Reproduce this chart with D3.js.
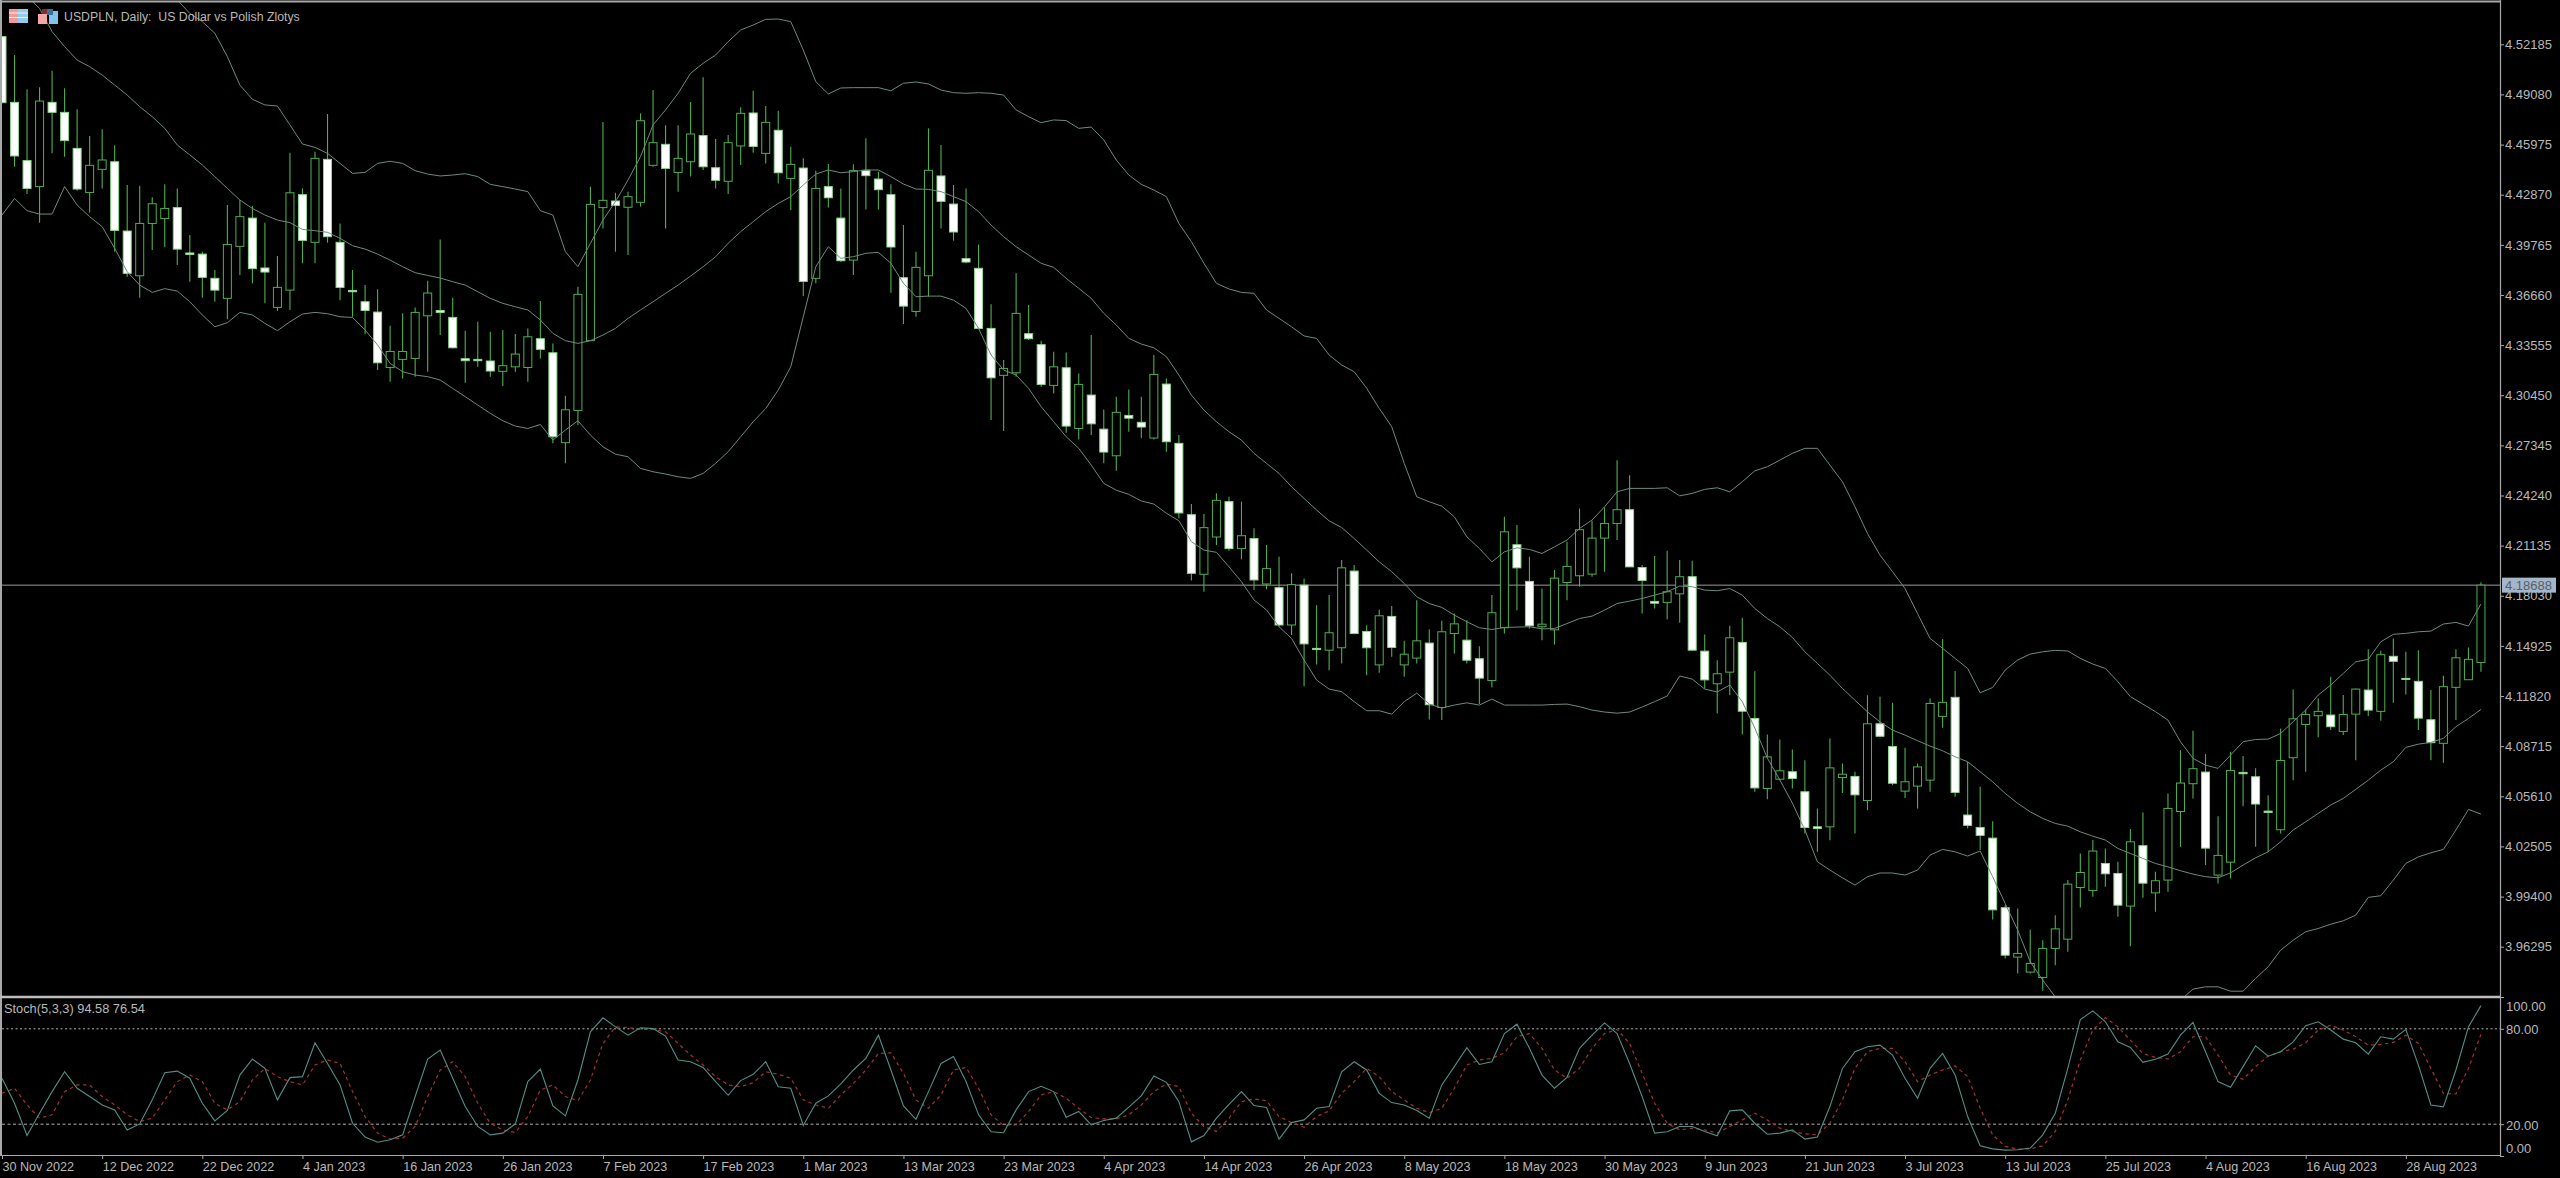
<!DOCTYPE html>
<html><head><meta charset="utf-8">
<style>
html,body{margin:0;padding:0;background:#000;overflow:hidden}
svg{display:block;font-family:"Liberation Sans",Arial,sans-serif}
</style>
<script src="https://cdn.jsdelivr.net/npm/d3@7/dist/d3.min.js"></script>
</head><body><svg id="c" width="2560" height="1178"></svg>
<script>
const opens=[
4.5266,4.4859,4.4498,4.4337,4.4859,4.4797,4.4574,4.4301,4.4444,4.4491,
4.4062,4.3785,4.4109,4.4140,4.4207,4.3926,4.3919,4.3769,4.3645,4.3967,
4.4142,4.3833,4.3589,4.3696,4.4287,4.3992,4.4506,4.3992,4.3694,4.3624,
4.3560,4.3217,4.3267,4.3273,4.3537,4.3570,4.3527,4.3271,4.3267,4.3257,
4.3193,4.3221,4.3217,4.3395,4.3308,4.2751,4.2951,4.3383,4.4207,4.4248,
4.4209,4.4240,4.4469,4.4599,4.4425,4.4491,4.4653,4.4454,4.4370,4.4589,
4.4793,4.4543,4.4686,4.4388,4.4452,4.3769,4.4337,4.4142,4.3882,4.4438,
4.4384,4.4287,4.3773,4.3564,4.3785,4.4403,4.4229,4.3891,4.3831,4.3459,
4.3168,4.3184,4.3426,4.3358,4.3106,4.3215,4.2839,4.3046,4.2835,4.2670,
4.2920,4.2877,4.2780,4.3114,4.2747,4.2305,4.1936,4.2167,4.2386,4.2095,
4.2157,4.1876,4.1853,4.1622,4.1869,4.1477,4.1466,4.1481,4.1956,4.1582,
4.1375,4.1675,4.1375,4.1417,4.1510,4.1111,4.1569,4.1528,4.1413,4.1278,
4.1605,4.2119,4.1892,4.1611,4.1592,4.1885,4.1927,4.1937,4.2160,4.2251,
4.2336,4.1978,4.1768,4.1762,4.1815,4.1921,4.1460,4.1258,4.1330,4.1514,
4.1043,4.0609,4.0667,4.0713,4.0589,4.0372,4.0372,4.0677,4.0684,4.0535,
4.1010,4.0869,4.0593,4.0624,4.0661,4.1056,4.1174,4.0445,4.0368,4.0302,
3.9871,3.9565,3.9472,3.9439,3.9619,3.9676,3.9996,3.9978,4.0145,4.0083,
3.9881,4.0255,3.9963,4.0042,4.0467,4.0639,4.0711,4.0073,4.0153,4.0709,
4.0682,4.0469,4.0354,4.0800,4.1006,4.1060,4.1064,4.0963,4.1070,4.1219,
4.1087,4.1428,4.1291,4.1273,4.1035,4.0889,4.1236,4.1283,4.1390];
const highs=[
4.5270,4.5152,4.4940,4.4952,4.5055,4.4946,4.4816,4.4650,4.4692,4.4593,
4.4347,4.4343,4.4271,4.4351,4.4326,4.4037,4.3934,4.3820,4.4223,4.4254,
4.4217,4.4114,4.3907,4.4547,4.4326,4.4553,4.4787,4.4109,4.3820,4.3727,
4.3701,4.3475,4.3552,4.3589,4.3754,4.4010,4.3649,4.3445,4.3500,4.3438,
4.3449,4.3424,4.3459,4.3628,4.3366,4.3042,4.3717,4.4337,4.4737,4.4299,
4.4306,4.4791,4.4935,4.4717,4.4717,4.4861,4.5014,4.4632,4.4657,4.4828,
4.4931,4.4836,4.4807,4.4584,4.4512,4.4436,4.4477,4.4326,4.4475,4.4636,
4.4430,4.4351,4.4099,4.3934,4.4698,4.4595,4.4347,4.4326,4.3979,4.3608,
4.3263,4.3800,4.3604,4.3383,4.3314,4.3310,4.3180,4.3418,4.2957,4.3036,
4.3081,4.3036,4.3294,4.3149,4.2799,4.2372,4.2310,4.2438,4.2417,4.2386,
4.2221,4.2118,4.2045,4.1942,4.1910,4.1745,4.1807,4.2024,4.1993,4.1621,
4.1718,4.1739,4.1524,4.1776,4.1594,4.1648,4.1693,4.1652,4.1491,4.1807,
4.2292,4.2241,4.2044,4.1848,4.1962,4.2137,4.2344,4.2267,4.2350,4.2643,
4.2550,4.1993,4.2049,4.2082,4.2024,4.2020,4.1563,4.1404,4.1617,4.1667,
4.1336,4.0944,4.0913,4.0851,4.0785,4.0485,4.0919,4.0764,4.0713,4.1187,
4.1177,4.1140,4.0861,4.0764,4.1167,4.1535,4.1337,4.0775,4.0620,4.0407,
3.9887,3.9866,3.9736,3.9670,3.9825,4.0042,4.0207,4.0290,4.0238,4.0156,
4.0358,4.0461,4.0094,4.0579,4.0847,4.0967,4.0822,4.0438,4.0837,4.0810,
4.0734,4.0568,4.0981,4.1223,4.1099,4.1167,4.1302,4.1188,4.1229,4.1471,
4.1463,4.1539,4.1456,4.1465,4.1219,4.1308,4.1471,4.1483,4.1886];
const lows=[
4.4853,4.4460,4.4291,4.4114,4.4543,4.4522,4.4312,4.4176,4.4326,4.3934,
4.3779,4.3649,4.3944,4.3961,4.3851,4.3748,4.3649,4.3624,4.3515,4.3789,
4.3738,4.3614,4.3566,4.3573,4.3862,4.3862,4.3990,4.3634,4.3531,4.3422,
4.3201,4.3129,4.3149,4.3160,4.3191,4.3418,4.3335,4.3122,4.3221,4.3160,
4.3102,4.3191,4.3129,4.3273,4.2747,4.2623,4.2860,4.3383,4.4078,4.3934,
4.3913,4.4213,4.4460,4.4078,4.4306,4.4399,4.4440,4.4326,4.4291,4.4471,
4.4547,4.4481,4.4357,4.4192,4.3659,4.3738,4.4207,4.3872,4.3789,4.4196,
4.4196,4.3680,4.3486,4.3531,4.3655,4.4078,4.4002,4.3862,4.3459,4.2891,
4.2823,4.3160,4.3387,4.3098,4.3056,4.2813,4.2771,4.2798,4.2623,4.2577,
4.2819,4.2778,4.2771,4.2695,4.2283,4.1897,4.1828,4.2118,4.2082,4.2029,
4.1839,4.1843,4.1612,4.1560,4.1243,4.1377,4.1342,4.1384,4.1565,4.1311,
4.1326,4.1425,4.1301,4.1384,4.1037,4.1033,4.1446,4.1384,4.1132,4.1235,
4.1569,4.1714,4.1600,4.1528,4.1501,4.1776,4.1859,4.1921,4.1952,4.2148,
4.1982,4.1693,4.1724,4.1656,4.1636,4.1466,4.1229,4.1074,4.1187,4.0944,
4.0589,4.0543,4.0661,4.0609,4.0330,4.0217,4.0289,4.0582,4.0330,4.0475,
4.0929,4.0630,4.0551,4.0485,4.0589,4.0986,4.0558,4.0362,4.0228,3.9798,
3.9557,3.9464,3.9464,3.9356,3.9515,3.9598,3.9873,3.9939,4.0001,3.9815,
3.9633,3.9932,3.9846,3.9970,4.0248,4.0548,4.0135,4.0021,4.0052,4.0500,
4.0248,4.0217,4.0331,4.0661,4.0713,4.0926,4.0971,4.0940,4.0785,4.1058,
4.1029,4.1140,4.1192,4.0971,4.0785,4.0769,4.1033,4.1281,4.1333];
const closes=[
4.4857,4.4527,4.4326,4.4867,4.4797,4.4622,4.4322,4.4469,4.4502,4.4066,
4.3800,4.4109,4.4231,4.4202,4.3950,4.3917,4.3775,4.3696,4.3979,4.4151,
4.3829,4.3808,4.3713,4.4299,4.4004,4.4512,4.4027,4.3713,4.3686,4.3570,
4.3246,4.3316,4.3316,4.3558,4.3678,4.3558,4.3339,4.3259,4.3259,4.3195,
4.3228,4.3300,4.3407,4.3329,4.2788,4.2955,4.3670,4.4227,4.4252,4.4221,
4.4275,4.4745,4.4609,4.4450,4.4512,4.4663,4.4460,4.4376,4.4609,4.4791,
4.4586,4.4735,4.4423,4.4475,4.3750,4.4326,4.4268,4.3878,4.4436,4.4405,
4.4318,4.3963,4.3597,4.3837,4.4438,4.4246,4.4056,4.3870,4.3459,4.3153,
4.3211,4.3552,4.3395,4.3112,4.3221,4.2854,4.3112,4.2868,4.2693,4.2939,
4.2903,4.2848,4.3174,4.2757,4.2316,4.1942,4.2225,4.2394,4.2095,4.2175,
4.1901,4.1971,4.1622,4.1872,4.1505,4.1470,4.1574,4.1976,4.1569,4.1481,
4.1679,4.1483,4.1441,4.1524,4.1128,4.1580,4.1629,4.1404,4.1293,4.1698,
4.2199,4.1976,4.1617,4.1627,4.1912,4.1985,4.2212,4.2160,4.2251,4.2336,
4.1982,4.1898,4.1757,4.1828,4.1921,4.1466,4.1282,4.1320,4.1543,4.1088,
4.0613,4.0805,4.0719,4.0671,4.0368,4.0361,4.0737,4.0698,4.0570,4.1010,
4.0933,4.0642,4.0651,4.0743,4.1136,4.1143,4.0585,4.0381,4.0319,3.9858,
3.9577,3.9588,3.9526,3.9619,3.9740,4.0017,4.0089,4.0222,4.0081,3.9887,
4.0279,4.0023,4.0038,4.0486,4.0643,4.0732,4.0240,4.0195,4.0721,4.0701,
4.0513,4.0461,4.0783,4.1041,4.1068,4.1087,4.0992,4.1068,4.1225,4.1095,
4.1438,4.1397,4.1285,4.1045,4.0893,4.1240,4.1419,4.1409,4.18688];
const bandUpper=[
null,null,null,null,null,null,null,null,null,null,
null,null,null,4.5576,4.5493,4.5410,4.5359,4.5287,4.5142,4.4966,
4.4878,4.4843,4.4836,4.4719,4.4601,4.4580,4.4543,4.4481,4.4419,4.4425,
4.4481,4.4494,4.4481,4.4436,4.4415,4.4403,4.4409,4.4417,4.4399,4.4351,
4.4337,4.4322,4.4306,4.4188,4.4161,4.3934,4.3841,4.3986,4.4130,4.4244,
4.4378,4.4523,4.4719,4.4812,4.4915,4.5039,4.5101,4.5152,4.5235,4.5307,
4.5338,4.5373,4.5375,4.5359,4.5183,4.4987,4.4911,4.4948,4.4950,4.4950,
4.4950,4.4931,4.4977,4.4985,4.4973,4.4935,4.4919,4.4915,4.4919,4.4915,
4.4904,4.4812,4.4770,4.4733,4.4750,4.4746,4.4698,4.4706,4.4626,4.4502,
4.4409,4.4351,4.4316,4.4275,4.4109,4.3996,4.3862,4.3738,4.3703,4.3682,
4.3676,4.3573,4.3521,4.3469,4.3412,4.3397,4.3294,4.3232,4.3191,4.3088,
4.2964,4.2850,4.2623,4.2416,4.2385,4.2358,4.2292,4.2168,4.2096,4.2013,
4.2075,4.2100,4.2090,4.2065,4.2106,4.2148,4.2220,4.2272,4.2354,4.2447,
4.2468,4.2468,4.2468,4.2472,4.2422,4.2437,4.2462,4.2472,4.2447,4.2509,
4.2577,4.2602,4.2643,4.2685,4.2716,4.2716,4.2612,4.2509,4.2354,4.2189,
4.2055,4.1952,4.1848,4.1693,4.1539,4.1477,4.1415,4.1353,4.1202,4.1235,
4.1343,4.1405,4.1442,4.1456,4.1465,4.1461,4.1415,4.1380,4.1353,4.1271,
4.1178,4.1132,4.1085,4.1033,4.0899,4.0796,4.0754,4.0734,4.0816,4.0899,
4.0913,4.0915,4.0950,4.1023,4.1095,4.1188,4.1250,4.1322,4.1394,4.1409,
4.1518,4.1564,4.1570,4.1580,4.1584,4.1628,4.1638,4.1615,4.1752];
const bandMiddle=[
4.5700,4.5617,4.5514,4.5441,4.5297,4.5204,4.5121,4.5080,4.5028,4.4966,
4.4904,4.4832,4.4770,4.4698,4.4595,4.4533,4.4471,4.4399,4.4326,4.4254,
4.4202,4.4161,4.4130,4.4114,4.4072,4.4064,4.4054,4.4017,4.3971,4.3950,
4.3919,4.3882,4.3841,4.3804,4.3787,4.3771,4.3748,4.3727,4.3686,4.3645,
4.3614,4.3593,4.3573,4.3511,4.3428,4.3383,4.3366,4.3383,4.3418,4.3459,
4.3521,4.3573,4.3624,4.3676,4.3727,4.3783,4.3841,4.3903,4.3986,4.4058,
4.4120,4.4182,4.4233,4.4275,4.4347,4.4415,4.4440,4.4423,4.4430,4.4440,
4.4440,4.4399,4.4353,4.4322,4.4320,4.4306,4.4275,4.4244,4.4182,4.4099,
4.4027,4.3965,4.3913,4.3862,4.3837,4.3769,4.3707,4.3645,4.3552,4.3480,
4.3397,4.3362,4.3339,4.3284,4.3170,4.3046,4.2953,4.2881,4.2819,4.2767,
4.2685,4.2623,4.2561,4.2478,4.2406,4.2334,4.2267,4.2226,4.2158,4.2086,
4.2013,4.1952,4.1879,4.1797,4.1755,4.1731,4.1683,4.1642,4.1605,4.1594,
4.1607,4.1609,4.1611,4.1598,4.1600,4.1631,4.1662,4.1677,4.1714,4.1755,
4.1770,4.1786,4.1807,4.1828,4.1863,4.1859,4.1838,4.1834,4.1848,4.1807,
4.1724,4.1662,4.1611,4.1545,4.1456,4.1384,4.1311,4.1229,4.1156,4.1084,
4.1022,4.0971,4.0940,4.0905,4.0872,4.0843,4.0806,4.0775,4.0713,4.0651,
4.0579,4.0517,4.0465,4.0424,4.0393,4.0376,4.0341,4.0314,4.0290,4.0238,
4.0207,4.0176,4.0145,4.0124,4.0100,4.0079,4.0063,4.0056,4.0087,4.0135,
4.0180,4.0217,4.0279,4.0352,4.0403,4.0455,4.0507,4.0548,4.0604,4.0661,
4.0723,4.0775,4.0864,4.0884,4.0895,4.0920,4.0992,4.1043,4.1099];
const bandLower=[
4.4161,4.4264,4.4188,4.4167,4.4167,4.4337,4.4223,4.4151,4.4089,4.3955,
4.3810,4.3727,4.3682,4.3705,4.3690,4.3624,4.3542,4.3469,4.3494,4.3558,
4.3542,4.3490,4.3445,4.3500,4.3548,4.3558,4.3550,4.3531,4.3527,4.3449,
4.3356,4.3242,4.3191,4.3170,4.3160,4.3139,4.3087,4.3036,4.2984,4.2933,
4.2887,4.2854,4.2839,4.2864,4.2767,4.2829,4.2887,4.2798,4.2726,4.2680,
4.2664,4.2592,4.2571,4.2557,4.2540,4.2530,4.2561,4.2623,4.2695,4.2788,
4.2881,4.2963,4.3077,4.3221,4.3531,4.3841,4.3965,4.3893,4.3903,4.3924,
4.3930,4.3862,4.3738,4.3655,4.3659,4.3659,4.3634,4.3583,4.3459,4.3294,
4.3201,4.3170,4.3087,4.2974,4.2881,4.2788,4.2716,4.2612,4.2499,4.2457,
4.2431,4.2390,4.2371,4.2314,4.2268,4.2138,4.2086,4.2072,4.1983,4.1890,
4.1777,4.1715,4.1611,4.1539,4.1405,4.1281,4.1225,4.1209,4.1147,4.1091,
4.1091,4.1070,4.1147,4.1200,4.1132,4.1108,4.1126,4.1140,4.1126,4.1163,
4.1126,4.1126,4.1126,4.1126,4.1130,4.1132,4.1116,4.1095,4.1083,4.1076,
4.1083,4.1114,4.1147,4.1182,4.1306,4.1287,4.1225,4.1207,4.1250,4.1147,
4.0984,4.0798,4.0662,4.0519,4.0352,4.0155,4.0104,4.0056,4.0011,4.0063,
4.0086,4.0086,4.0073,4.0104,4.0197,4.0232,4.0217,4.0191,4.0222,4.0063,
3.9897,3.9732,3.9536,3.9422,3.9319,null,null,null,null,null,
null,null,null,null,3.9298,3.9367,3.9381,3.9381,3.9354,3.9354,
3.9433,3.9505,3.9608,3.9670,3.9722,3.9742,3.9769,3.9790,3.9825,3.9935,
3.9945,4.0042,4.0145,4.0186,4.0211,4.0232,4.0352,4.0480,4.0451];
const stochMain=[
48.9,33.2,12.9,26.9,40.5,53.0,42.6,37.4,32.1,29.0,
16.4,20.2,35.3,52.4,53.4,48.9,33.2,22.1,28.6,50.9,
61.0,55.1,35.3,49.3,49.9,71.2,58.2,44.7,20.6,11.9,
8.7,10.2,13.3,37.4,61.0,66.6,48.9,31.1,18.6,13.3,
14.4,20.2,46.8,54.7,31.5,25.2,47.8,78.1,86.9,81.2,
76.0,80.6,80.2,75.4,60.4,59.3,55.7,46.8,38.2,47.4,
51.4,59.3,43.6,42.6,19.2,33.2,37.8,45.3,54.1,61.4,
76.0,54.1,31.5,23.1,40.5,58.2,62.6,46.8,25.9,15.2,
14.6,29.0,40.5,43.8,40.5,24.4,28.0,19.6,22.3,23.8,
30.7,37.8,50.3,46.3,34.2,8.9,12.9,23.8,32.5,40.5,
31.7,30.5,10.6,21.0,22.7,30.0,31.1,53.0,59.3,54.1,
39.4,33.6,32.1,28.6,23.8,44.7,56.2,68.1,57.6,59.3,
77.0,82.9,67.7,50.9,42.6,49.5,67.7,76.0,83.7,77.0,
58.2,37.4,14.4,15.2,18.6,18.6,15.4,12.7,28.4,29.0,
20.6,13.7,14.4,16.4,10.6,11.9,31.1,55.1,65.6,68.7,
69.7,63.5,48.9,36.3,55.1,64.5,50.9,24.8,6.4,4.5,
3.7,3.9,5.0,13.3,26.9,55.1,85.8,91.3,84.4,71.8,
68.3,58.9,60.8,64.1,76.0,84.0,65.6,46.8,43.2,56.2,
69.3,62.8,65.6,71.8,81.9,84.4,79.2,73.5,71.2,64.1,
75.0,73.5,79.6,57.2,32.1,30.9,54.1,81.2,94.58];
const stochSignal=[
39.4,42.6,32.1,23.8,25.9,40.5,44.7,44.7,37.4,32.1,
25.9,21.7,23.8,35.3,46.8,50.9,46.8,33.2,29.0,34.2,
47.8,55.1,49.9,46.8,44.7,57.2,60.4,58.2,40.5,24.8,
14.4,10.6,11.2,18.6,37.4,54.1,59.3,49.9,33.2,20.6,
16.4,14.8,24.8,41.5,44.7,37.4,34.8,47.8,70.8,81.2,
80.8,79.6,79.6,78.1,70.8,63.5,57.2,49.9,44.7,43.6,
46.1,53.0,51.4,48.9,35.3,32.1,30.0,38.4,45.7,54.1,
64.5,64.9,52.0,35.3,30.0,38.4,54.1,55.7,42.6,25.9,
19.2,19.6,28.0,38.4,40.5,36.3,30.0,24.2,23.3,23.3,
25.9,32.1,40.5,45.3,43.6,26.9,18.6,15.4,23.8,34.2,
35.9,34.8,24.8,21.0,18.1,24.8,28.4,39.4,46.8,55.1,
49.9,40.5,35.3,30.0,27.3,30.0,42.6,57.2,60.4,61.4,
64.9,75.0,77.0,67.7,54.1,48.9,55.1,67.7,77.0,79.6,
70.8,52.0,33.2,20.6,16.4,17.5,16.4,14.4,18.6,22.7,
26.9,22.7,17.5,15.4,13.9,13.3,20.6,35.3,55.1,65.6,
67.7,67.7,59.3,46.8,50.9,54.1,56.6,49.9,30.0,13.3,
6.0,4.3,4.5,6.4,15.4,35.3,60.4,79.2,87.1,81.2,
72.9,64.5,62.0,61.0,65.6,75.0,75.0,63.5,50.9,48.2,
56.2,62.8,65.6,67.2,71.2,79.2,82.3,79.2,75.0,69.7,
70.2,71.4,76.0,70.8,55.1,39.4,39.0,55.1,76.54];
const priceTicks=[4.52185,4.49080,4.45975,4.42870,4.39765,4.36660,4.33555,4.30450,4.27345,4.24240,4.21135,4.18030,4.14925,4.11820,4.08715,4.05610,4.02505,3.99400,3.96295];
const stochTicks=[100,80,20,0];
const dateLabels=["30 Nov 2022","12 Dec 2022","22 Dec 2022","4 Jan 2023","16 Jan 2023","26 Jan 2023","7 Feb 2023","17 Feb 2023","1 Mar 2023","13 Mar 2023","23 Mar 2023","4 Apr 2023","14 Apr 2023","26 Apr 2023","8 May 2023","18 May 2023","30 May 2023","9 Jun 2023","21 Jun 2023","3 Jul 2023","13 Jul 2023","25 Jul 2023","4 Aug 2023","16 Aug 2023","28 Aug 2023"];
const lastPrice=4.18688;
const titleText="USDPLN, Daily:  US Dollar vs Polish Zlotys";
const stochText="Stoch(5,3,3) 94.58 76.54";

const GREEN="#50ae50",BAND="#6c8c7b",AXIS="#a8a8a8",TXT="#b9b9b9";
const svg=d3.select("#c");
const x=d3.scaleLinear().domain([0,198]).range([2,2+198*12.52]);
const y=d3.scaleLinear().domain([4.52185,3.96295]).range([44.3,946.7]);
const ys=d3.scaleLinear().domain([0,100]).range([1156,997]);
const RIGHT=2500;

const defs=svg.append("defs");
defs.append("clipPath").attr("id","cm").append("rect").attr("x",2).attr("y",2).attr("width",RIGHT-2).attr("height",994);
defs.append("clipPath").attr("id","cs").append("rect").attr("x",2).attr("y",999).attr("width",RIGHT-2).attr("height",156);

svg.append("rect").attr("width",2560).attr("height",1178).attr("fill","#000");

const main=svg.append("g").attr("clip-path","url(#cm)");
const idx=d3.range(opens.length);

// current price line
main.append("line").attr("x1",0).attr("x2",RIGHT).attr("y1",y(lastPrice)).attr("y2",y(lastPrice)).attr("stroke","#9a9a9a").attr("stroke-width",1);

// wicks
main.append("g").selectAll("line").data(idx).join("line")
 .attr("x1",i=>x(i)).attr("x2",i=>x(i)).attr("y1",i=>y(highs[i])).attr("y2",i=>y(lows[i]))
 .attr("stroke",GREEN).attr("stroke-width",1.1);
// bodies
main.append("g").selectAll("rect").data(idx).join("rect")
 .attr("x",i=>x(i)-4).attr("width",8)
 .attr("y",i=>y(Math.max(opens[i],closes[i])))
 .attr("height",i=>Math.max(1,Math.abs(y(opens[i])-y(closes[i]))))
 .attr("fill",i=>closes[i]>=opens[i]?"#000":"#fff")
 .attr("stroke",i=>closes[i]>=opens[i]?GREEN:"#8fd88f").attr("stroke-width",1);

// Bollinger bands
const lm=s=>d3.line().defined(d=>d!=null).x((d,i)=>x(i)).y(d=>y(d))(s);
[bandUpper,bandMiddle,bandLower].forEach(s=>{
 main.append("path").attr("d",lm(s)).attr("fill","none").attr("stroke",BAND).attr("stroke-width",1);
});

// stochastic
const st=svg.append("g").attr("clip-path","url(#cs)");
const ll=d3.line().x((d,i)=>x(i)).y(d=>ys(d));
st.append("line").attr("x1",2).attr("x2",RIGHT).attr("y1",ys(80)).attr("y2",ys(80)).attr("stroke","#b0b0b0").attr("stroke-dasharray","2 2.5");
st.append("line").attr("x1",2).attr("x2",RIGHT).attr("y1",ys(20)).attr("y2",ys(20)).attr("stroke","#b0b0b0").attr("stroke-dasharray","3 2.5");
st.append("path").attr("d",ll(stochSignal)).attr("fill","none").attr("stroke","#a33232").attr("stroke-width",1.2).attr("stroke-dasharray","3.5 3.5");
st.append("path").attr("d",ll(stochMain)).attr("fill","none").attr("stroke","#538f85").attr("stroke-width",1.1);

// frame
const frame=svg.append("g").attr("stroke",AXIS).attr("fill","none");
frame.append("line").attr("x1",0).attr("x2",RIGHT+1).attr("y1",1.5).attr("y2",1.5).attr("stroke-width",2);
frame.append("line").attr("x1",1).attr("x2",1).attr("y1",0).attr("y2",1155).attr("stroke-width",2);
frame.append("line").attr("x1",0).attr("x2",RIGHT).attr("y1",997).attr("y2",997).attr("stroke-width",2.4).attr("stroke","#bdbdbd");

// axes
const styleAxis=g=>{g.select(".domain").attr("stroke",AXIS).attr("stroke-width",1.2);
 g.selectAll(".tick line").attr("stroke",AXIS);
 g.selectAll("text").attr("fill",TXT).attr("font-size",13).attr("font-family",'"Liberation Sans",Arial,sans-serif');};

const gy=svg.append("g").attr("transform",`translate(${RIGHT},0)`)
 .call(d3.axisRight(y).tickValues(priceTicks).tickSize(4).tickPadding(1).tickFormat(d3.format(".5f")));
gy.select(".domain").attr("d","M0.5,0V997");
styleAxis(gy);

const gs=svg.append("g").attr("transform",`translate(${RIGHT},0)`)
 .call(d3.axisRight(ys).tickValues(stochTicks).tickSize(4).tickPadding(2).tickFormat(d3.format(".2f")));
gs.select(".domain").attr("d","M0.5,997V1156");
styleAxis(gs);
gs.selectAll(".tick text").attr("dy",d=>d===100?"1.05em":d===0?"-0.3em":"0.38em");

const gx=svg.append("g").attr("transform","translate(0,1155)")
 .call(d3.axisBottom(x).tickValues(d3.range(dateLabels.length).map(k=>k*8)).tickSize(4).tickPadding(2).tickFormat((d,k)=>dateLabels[k]));
gx.select(".domain").attr("d",`M0,0.5H${RIGHT}`);
styleAxis(gx);
gx.selectAll(".tick text").attr("text-anchor","start").attr("font-size",12.6).attr("y",5).attr("dy","0.9em");

// last price tag
svg.append("rect").attr("x",2502).attr("y",y(lastPrice)-7.5).attr("width",54).attr("height",15).attr("fill","#a4b6c9");
svg.append("text").attr("x",2505).attr("y",y(lastPrice)+4.5).attr("font-size",13).attr("fill","#54606c").text(d3.format(".5f")(lastPrice));

// title and icons
const ic=svg.append("g");
ic.append("rect").attr("x",9).attr("y",9).attr("width",9).attr("height",14).attr("fill","#ef9a9a");
ic.append("rect").attr("x",18).attr("y",9).attr("width",10).attr("height",14).attr("fill","#93c9ef");
[13,17.5].forEach(v=>ic.append("line").attr("x1",9).attr("x2",28).attr("y1",v).attr("y2",v).attr("stroke","#ffeeee").attr("stroke-width",1));
ic.append("rect").attr("x",38).attr("y",14).attr("width",9).attr("height",10).attr("fill","#f2a6a6");
ic.append("rect").attr("x",49).attr("y",11).attr("width",9).attr("height",13).attr("fill","#7fc4f0");
ic.append("rect").attr("x",42).attr("y",9).attr("width",5).attr("height",5).attr("fill","#7a3030");
ic.append("rect").attr("x",47).attr("y",9).attr("width",6).attr("height",6).attr("fill","#3a6f96");
svg.append("text").attr("x",64).attr("y",21).attr("font-size",12.3).attr("fill",TXT).style("white-space","pre").text(titleText);
svg.append("text").attr("x",4).attr("y",1012.5).attr("font-size",12.8).attr("fill",TXT).text(stochText);
</script></body></html>
